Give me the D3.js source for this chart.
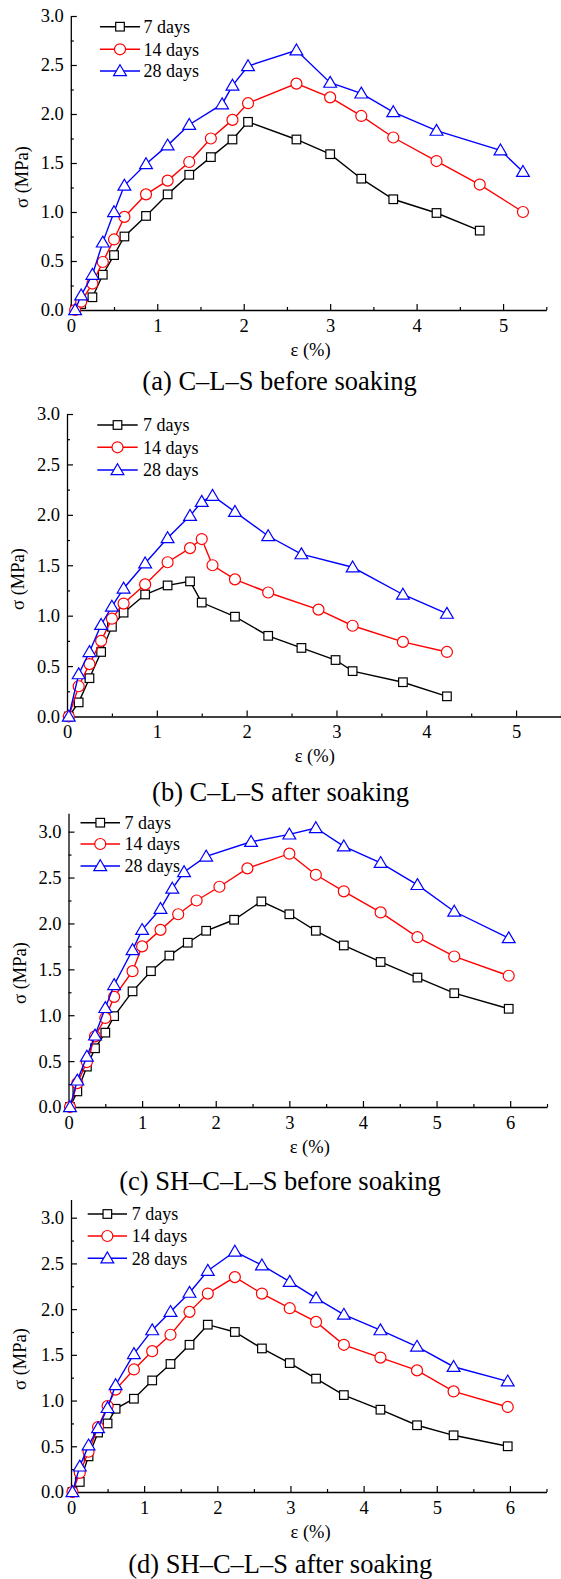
<!DOCTYPE html>
<html>
<head>
<meta charset="utf-8">
<script src="https://cdn.jsdelivr.net/npm/d3@7"></script>
<style>
  body { margin: 0; background: #fff; }
  svg text { font-family: 'Liberation Serif', 'Times New Roman', serif; fill: #000; }
</style>
</head>
<body>
<div id="chart"></div>
<script>
// stress (MPa) vs strain (%), one [strain, stress] list per curve
var seriesNames = ["7 days", "14 days", "28 days"];
var seriesColors = ["#000000", "#ff0000", "#0000ff"];
var captions = ["(a) C\u2013L\u2013S before soaking", "(b) C\u2013L\u2013S after soaking",
                "(c) SH\u2013C\u2013L\u2013S before soaking", "(d) SH\u2013C\u2013L\u2013S after soaking"];
var xTickValues = [0, 1, 2, 3, 4, 5, 6];
var yTickValues = [0, 0.5, 1.0, 1.5, 2.0, 2.5, 3.0];

// (a) C-L-S before soaking
var a7 = [[0.05,0],[0.12,0.06],[0.25,0.13],[0.37,0.36],[0.50,0.56],[0.62,0.75],[0.87,0.96],[1.12,1.18],[1.37,1.38],[1.62,1.56],[1.87,1.74],[2.05,1.92],[2.61,1.74],[3.0,1.59],[3.36,1.34],[3.73,1.13],[4.23,0.99],[4.73,0.81]];
var a14 = [[0.05,0],[0.12,0.085],[0.25,0.27],[0.37,0.49],[0.50,0.72],[0.62,0.95],[0.87,1.18],[1.12,1.32],[1.37,1.51],[1.62,1.75],[1.87,1.94],[2.05,2.11],[2.61,2.31],[3.0,2.17],[3.36,1.98],[3.73,1.76],[4.23,1.52],[4.73,1.28],[5.23,1.0]];
var a28 = [[0.05,0],[0.12,0.15],[0.25,0.36],[0.37,0.69],[0.50,1.0],[0.62,1.27],[0.87,1.49],[1.12,1.68],[1.37,1.89],[1.75,2.10],[1.87,2.29],[2.05,2.49],[2.61,2.65],[3.0,2.32],[3.36,2.21],[3.73,2.02],[4.23,1.83],[4.97,1.63],[5.23,1.41]];

// (b) C-L-S after soaking
var b7 = [[0.02,0],[0.13,0.14],[0.25,0.38],[0.38,0.64],[0.50,0.89],[0.63,1.03],[0.87,1.21],[1.12,1.30],[1.37,1.34],[1.50,1.13],[1.87,0.99],[2.24,0.80],[2.61,0.68],[2.99,0.56],[3.18,0.45],[3.74,0.34],[4.23,0.20]];
var b14 = [[0.02,0],[0.13,0.30],[0.25,0.52],[0.38,0.75],[0.50,0.97],[0.63,1.12],[0.87,1.31],[1.12,1.53],[1.37,1.67],[1.50,1.76],[1.62,1.50],[1.87,1.36],[2.24,1.23],[2.80,1.06],[3.18,0.90],[3.74,0.74],[4.23,0.64]];
var b28 = [[0.02,0],[0.13,0.42],[0.25,0.64],[0.38,0.91],[0.50,1.09],[0.63,1.27],[0.87,1.52],[1.12,1.77],[1.37,1.99],[1.50,2.13],[1.62,2.19],[1.87,2.03],[2.24,1.79],[2.61,1.61],[3.18,1.48],[3.74,1.21],[4.23,1.02]];

// (c) SH-C-L-S before soaking
var c7 = [[0.02,0],[0.12,0.17],[0.25,0.44],[0.36,0.64],[0.50,0.81],[0.62,0.99],[0.87,1.26],[1.12,1.48],[1.37,1.65],[1.62,1.79],[1.87,1.92],[2.25,2.04],[2.62,2.24],[3.0,2.10],[3.36,1.92],[3.74,1.76],[4.24,1.58],[4.74,1.41],[5.24,1.24],[5.98,1.07]];
var c14 = [[0.02,0],[0.12,0.26],[0.25,0.49],[0.36,0.77],[0.50,0.97],[0.62,1.20],[0.87,1.48],[1.0,1.75],[1.25,1.93],[1.49,2.10],[1.74,2.25],[2.05,2.40],[2.43,2.60],[3.0,2.76],[3.36,2.53],[3.74,2.35],[4.24,2.12],[4.74,1.85],[5.24,1.64],[5.98,1.43]];
var c28 = [[0.02,0],[0.12,0.29],[0.25,0.55],[0.36,0.78],[0.50,1.08],[0.62,1.33],[0.87,1.71],[1.0,1.93],[1.25,2.16],[1.41,2.38],[1.57,2.56],[1.87,2.73],[2.48,2.89],[3.0,2.97],[3.36,3.04],[3.74,2.84],[4.24,2.66],[4.74,2.42],[5.24,2.13],[5.98,1.84]];

// (d) SH-C-L-S after soaking
var d7 = [[0.02,0],[0.12,0.11],[0.24,0.39],[0.37,0.65],[0.50,0.75],[0.61,0.91],[0.86,1.02],[1.11,1.22],[1.36,1.40],[1.62,1.61],[1.87,1.83],[2.24,1.75],[2.61,1.57],[2.99,1.41],[3.35,1.24],[3.73,1.06],[4.23,0.90],[4.73,0.73],[5.23,0.62],[5.97,0.50]];
var d14 = [[0.02,0],[0.12,0.21],[0.24,0.44],[0.37,0.71],[0.50,0.94],[0.61,1.12],[0.86,1.34],[1.11,1.54],[1.36,1.72],[1.62,1.97],[1.87,2.17],[2.24,2.35],[2.61,2.17],[2.99,2.01],[3.35,1.86],[3.73,1.61],[4.23,1.47],[4.73,1.33],[5.23,1.10],[5.97,0.93]];
var d28 = [[0.02,0],[0.12,0.28],[0.24,0.51],[0.37,0.70],[0.50,0.92],[0.61,1.17],[0.86,1.51],[1.11,1.77],[1.36,1.97],[1.62,2.18],[1.87,2.42],[2.24,2.63],[2.61,2.48],[2.99,2.30],[3.35,2.12],[3.73,1.94],[4.23,1.77],[4.73,1.59],[5.23,1.37],[5.97,1.21]];

// where each panel sits on the page
var panels = [
  {series: [a7, a14, a28], left: 70.8, right: 546.3, xMax: 5.5, bottom: 310, top: 16, yMax: 3.0,
   legend: {x1: 100, x2: 140, tx: 143.5, y: [26.7, 49.3, 71]}, yLab: [22, 177], xLab: [310.6, 356], cap: [279.6, 390]},
  {series: [b7, b14, b28], left: 67, right: 561, xMax: 5.5, bottom: 716.5, top: 414, yMax: 3.0,
   legend: {x1: 97.3, x2: 137.7, tx: 143, y: [425, 447.3, 470]}, yLab: [17.5, 579], xLab: [314.8, 761.7], cap: [280.5, 801]},
  {series: [c7, c14, c28], left: 68.5, right: 547, xMax: 6.5, bottom: 1107, top: 813.3, yMax: 3.2,
   legend: {x1: 80.5, x2: 120, tx: 124.5, y: [822.7, 844, 866]}, yLab: [19.7, 973], xLab: [309.8, 1152.7], cap: [280, 1190]},
  {series: [d7, d14, d28], left: 71, right: 546.5, xMax: 6.5, bottom: 1492, top: 1199.4, yMax: 3.2,
   legend: {x1: 87.7, x2: 127, tx: 131.7, y: [1214, 1236, 1258.3]}, yLab: [19.7, 1359], xLab: [310.6, 1538.3], cap: [280.3, 1573]}
];

var serif = "'Liberation Serif', 'Times New Roman', serif";

var svg = d3.select("#chart").append("svg")
    .attr("width", 561)
    .attr("height", 1579)
    .style("background", "#fff");

var line = d3.line();

function drawMarker(g, i, color, cx, cy) {
    if (i == 0) {
        g.append("rect").attr("x", cx - 4.3).attr("y", cy - 4.3).attr("width", 8.6).attr("height", 8.6)
            .attr("fill", "#fff").attr("stroke", color).attr("stroke-width", 1.2);
    } else if (i == 1) {
        g.append("circle").attr("cx", cx).attr("cy", cy).attr("r", 5.5)
            .attr("fill", "#fff").attr("stroke", color).attr("stroke-width", 1.2);
    } else {
        g.append("path").attr("d", "M" + cx + "," + (cy - 6.3) + "L" + (cx + 6.4) + "," + (cy + 4.6) + "L" + (cx - 6.4) + "," + (cy + 4.6) + "Z")
            .attr("fill", "#fff").attr("stroke", color).attr("stroke-width", 1.2);
    }
}

function drawPanel(p, k) {
    var x = d3.scaleLinear().domain([0, p.xMax]).range([p.left, p.right]);
    var y = d3.scaleLinear().domain([0, p.yMax]).range([p.bottom, p.top]);
    var g = svg.append("g");

    var xMajor = xTickValues.filter(function(v) { return v <= p.xMax; });
    var xMinor = d3.range(0.5, p.xMax + 0.01, 1);
    var yMajor = yTickValues.filter(function(v) { return v <= p.yMax; });
    var yMinor = d3.range(0.25, p.yMax + 0.01, 0.5);

    // minor ticks (inward, no labels)
    g.append("g").attr("transform", "translate(0," + p.bottom + ")")
        .call(d3.axisBottom(x).tickValues(xMinor).tickSize(-3).tickFormat(""))
        .call(function(a) { a.select(".domain").remove(); });
    g.append("g").attr("transform", "translate(" + p.left + ",0)")
        .call(d3.axisLeft(y).tickValues(yMinor).tickSize(-3).tickFormat(""))
        .call(function(a) { a.select(".domain").remove(); });

    g.append("g").attr("transform", "translate(0," + p.bottom + ")")
        .call(d3.axisBottom(x).tickValues(xMajor).tickSizeInner(-6).tickSizeOuter(0).tickPadding(8.5).tickFormat(d3.format("d")));
    g.append("g").attr("transform", "translate(" + p.left + ",0)")
        .call(d3.axisLeft(y).tickValues(yMajor).tickSizeInner(-6).tickSizeOuter(0).tickPadding(7).tickFormat(d3.format(".1f")));

    g.selectAll("g").attr("font-family", serif);
    g.selectAll(".tick line").attr("stroke", "#000").attr("stroke-width", 1.2);
    g.selectAll(".domain").attr("stroke", "#000").attr("stroke-width", 1.3);
    g.selectAll(".tick text").style("font-size", "18.5px").style("font-family", serif);

    // curves
    p.series.forEach(function(s, i) {
        g.append("path")
            .attr("d", line(s.map(function(d) { return [x(d[0]), y(d[1])]; })))
            .attr("fill", "none")
            .attr("stroke", seriesColors[i])
            .attr("stroke-width", 1.4);
        s.forEach(function(d) { drawMarker(g, i, seriesColors[i], x(d[0]), y(d[1])); });
    });

    // legend
    seriesNames.forEach(function(name, i) {
        var ly = p.legend.y[i];
        g.append("line").attr("x1", p.legend.x1).attr("x2", p.legend.x2).attr("y1", ly).attr("y2", ly)
            .attr("stroke", seriesColors[i]).attr("stroke-width", 1.4);
        drawMarker(g, i, seriesColors[i], (p.legend.x1 + p.legend.x2) / 2, ly);
        g.append("text").attr("x", p.legend.tx).attr("y", ly).attr("dy", "0.35em")
            .style("font-family", serif).style("font-size", "18px").text(name);
    });

    // axis titles and caption
    g.append("text")
        .attr("transform", "translate(" + p.yLab[0] + "," + p.yLab[1] + ") rotate(-90)")
        .attr("text-anchor", "middle").attr("dy", "0.35em")
        .style("font-family", serif).style("font-size", "18.5px").text("\u03c3 (MPa)");
    g.append("text").attr("x", p.xLab[0]).attr("y", p.xLab[1]).attr("text-anchor", "middle")
        .style("font-family", serif).style("font-size", "18.5px").text("\u03b5 (%)");
    g.append("text").attr("x", p.cap[0]).attr("y", p.cap[1]).attr("text-anchor", "middle")
        .style("font-family", serif).style("font-size", "26.5px").text(captions[k]);
}

panels.forEach(drawPanel);
</script>
</body>
</html>
